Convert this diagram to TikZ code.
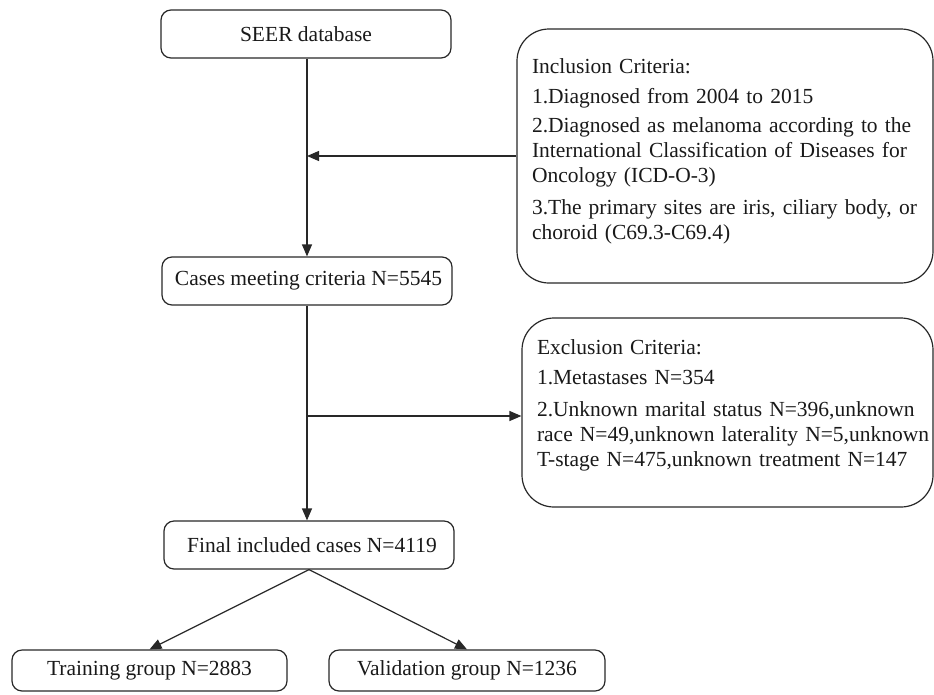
\documentclass[tikz,border=0pt]{standalone}
\usepackage{fontspec}
\setmainfont{Liberation Serif}
\usetikzlibrary{arrows.meta,calc}
\definecolor{lineg}{RGB}{40,40,40}
\definecolor{textg}{RGB}{25,25,25}
\tikzset{
  flowbox/.style={draw=lineg, line width=1.2pt, rounded corners=10pt, text=textg,
                  minimum width=290pt, minimum height=48pt, align=center},
  critbox/.style={draw=lineg, line width=1.2pt, rounded corners=32pt, text=textg,
                  inner xsep=15pt, align=left},
  flowarr/.style={-{Triangle[length=12pt,width=10pt]}, lineg, line width=1.2pt},
}

\begin{document}
\begin{tikzpicture}[x=1pt, y=-1pt, font=\fontsize{21.5}{25}\selectfont]
    \useasboundingbox (0,0) rectangle (934,694);
    % main column
    \node[flowbox] (seer) at (306,34) {SEER database};
    \node[flowbox] (cases) at (307,281) {\hspace{3pt}Cases meeting criteria N=5545};
    \node[flowbox] (final) at (309,545) {\hspace{6pt}Final included cases N=4119};
    \node[flowbox, minimum width=275pt, minimum height=41pt] (train) at (149.5,670.5) {Training group N=2883};
    \node[flowbox, minimum width=276pt, minimum height=41pt] (valid) at (467,670.5) {Validation group N=1236};
    % criteria boxes
    \node[critbox, text width=386pt, minimum height=254pt] (incl) at (725,156) {%
      Inclusion Criteria:\\[5pt]
      1.Diagnosed from 2004 to 2015\\[4pt]
      2.Diagnosed as melanoma according to the\\
      International Classification of Diseases for\\
      Oncology (ICD-O-3)\\[7pt]
      3.The primary sites are iris, ciliary body, or\\
      choroid (C69.3-C69.4)\par\vspace{9pt}};
    \node[critbox, text width=381pt, minimum height=189pt] (excl) at (727.5,412.5) {%
      Exclusion Criteria:\\[5pt]
      1.Metastases N=354\\[7pt]
      \mbox{2.Unknown marital status N=396,unknown}\\
      \mbox{race N=49,unknown laterality N=5,unknown}\\
      \mbox{T-stage N=475,unknown treatment N=147}\par\vspace{14pt}};
    % connectors
    \draw[flowarr] (seer.south -| cases.north) -- (cases.north);
    \draw[flowarr] (cases.south) -- (final.north -| cases.south);
    \draw[flowarr] (incl.west) -- (incl.west -| cases.north);
    \coordinate (exclin) at ($(excl.west)+(0,3.5)$);
    \draw[flowarr] (exclin -| cases.south) -- (exclin);
    \draw[flowarr] (final.south) -- (train.north);
    \draw[flowarr] (final.south) -- (valid.north);
\end{tikzpicture}
\end{document}
